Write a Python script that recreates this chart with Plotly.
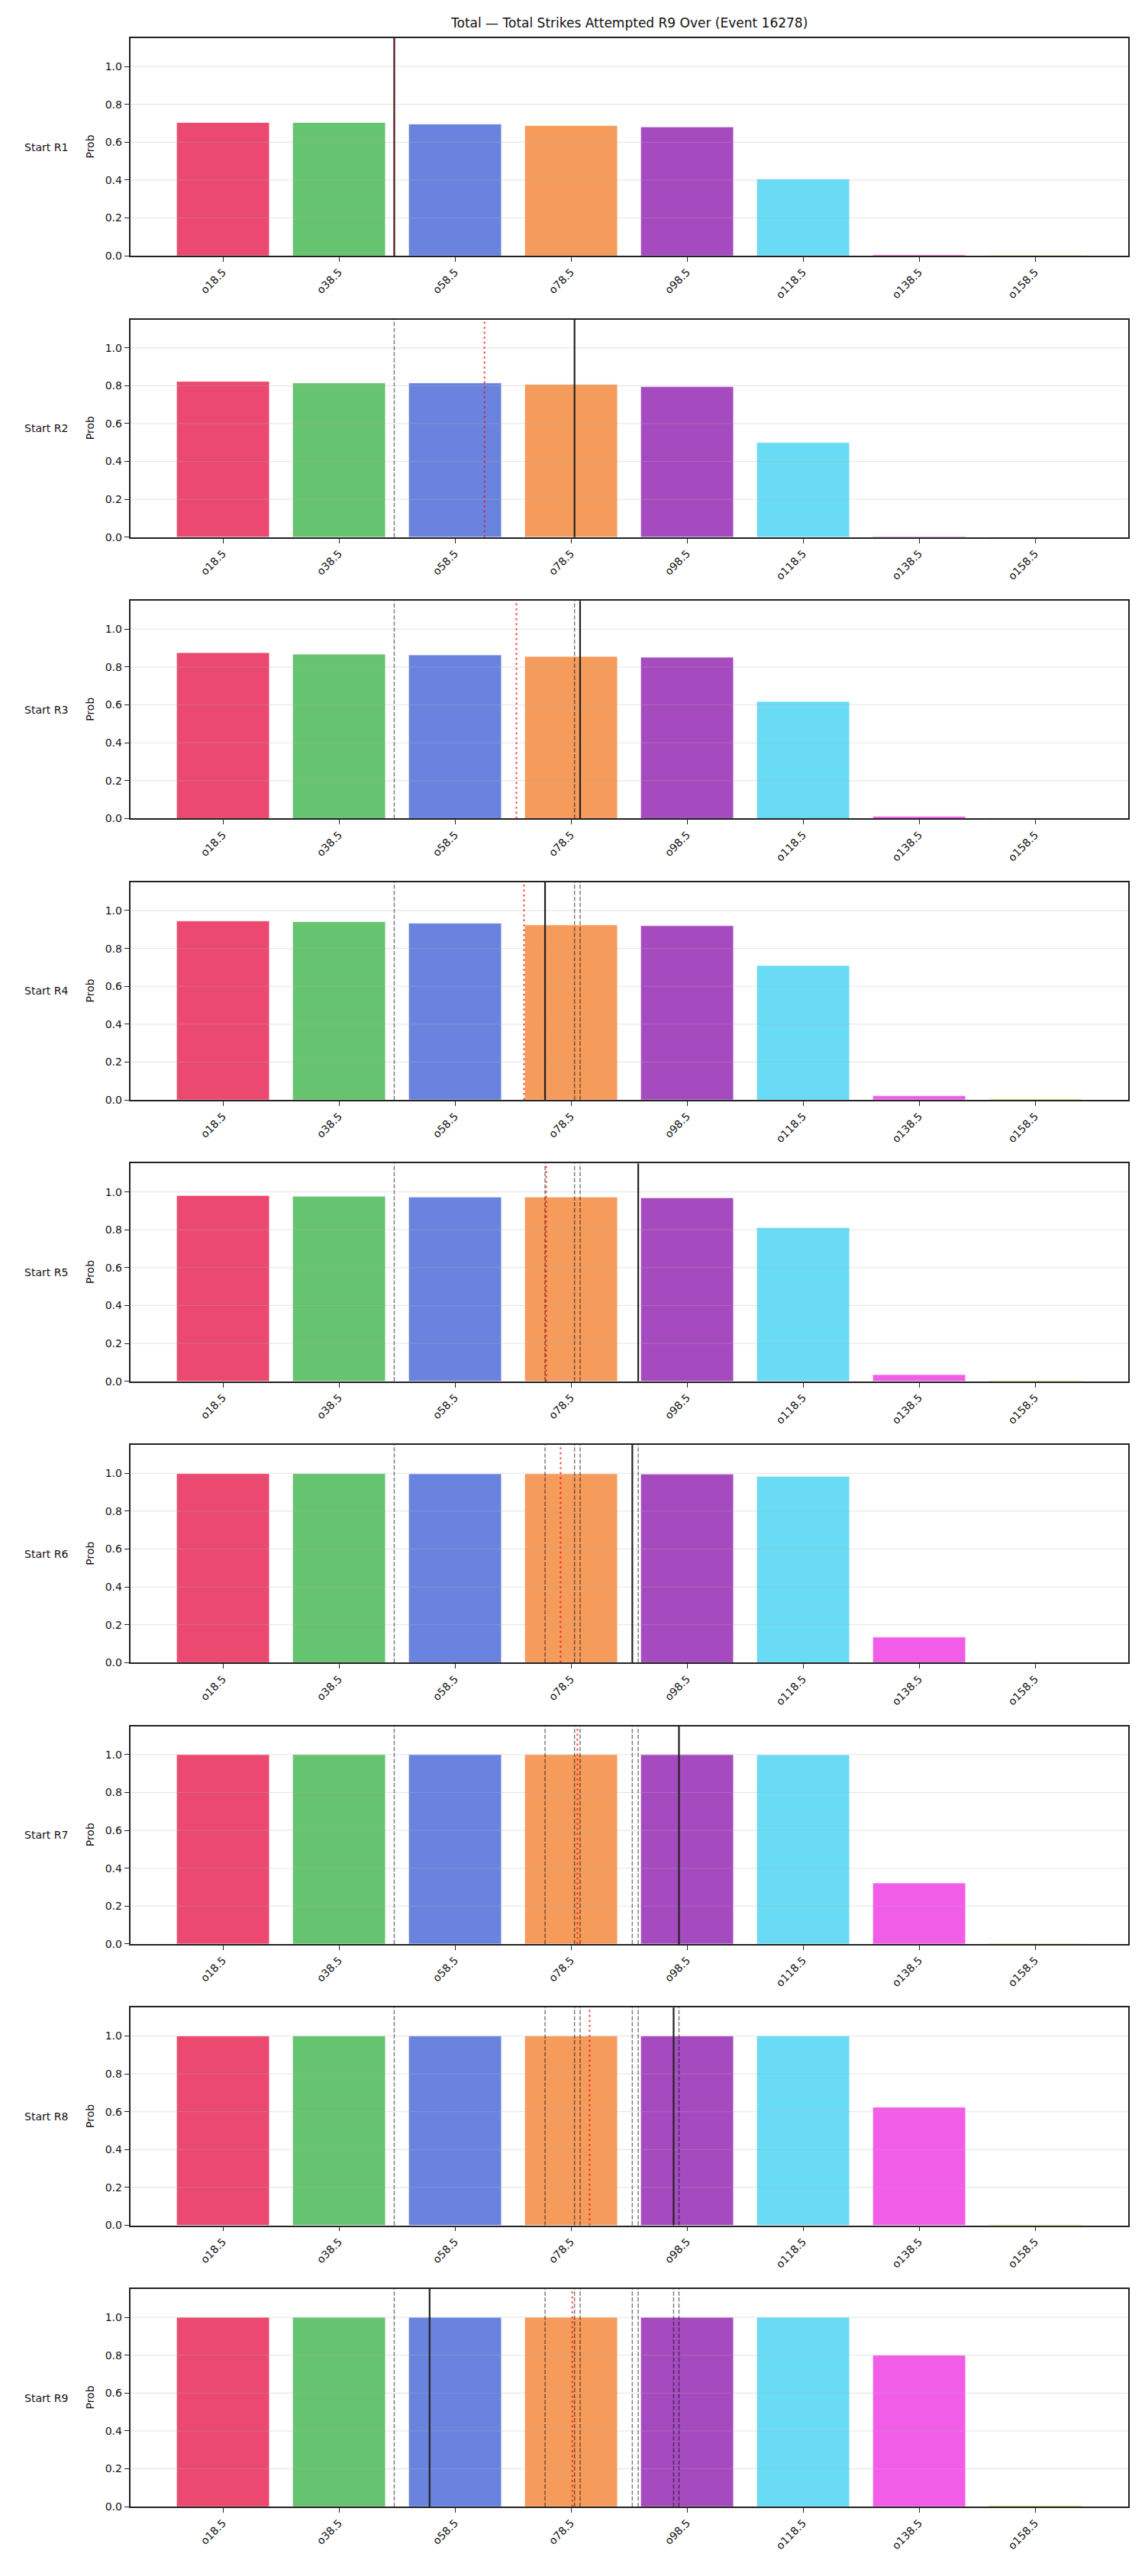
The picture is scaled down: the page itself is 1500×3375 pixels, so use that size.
import plotly.graph_objects as go

# ---------------- data ----------------
categories = ["o18.5", "o38.5", "o58.5", "o78.5", "o98.5", "o118.5", "o138.5", "o158.5"]
rounds = ["Start R1", "Start R2", "Start R3", "Start R4", "Start R5",
          "Start R6", "Start R7", "Start R8", "Start R9"]

prob_r1 = [0.704, 0.704, 0.696, 0.688, 0.681, 0.406, 0.006, 0.004]
prob_r2 = [0.823, 0.815, 0.815, 0.807, 0.795, 0.500, 0.005, 0.002]
prob_r3 = [0.876, 0.868, 0.864, 0.856, 0.852, 0.618, 0.012, 0.004]
prob_r4 = [0.945, 0.941, 0.933, 0.924, 0.920, 0.710, 0.022, 0.005]
prob_r5 = [0.981, 0.977, 0.973, 0.973, 0.969, 0.812, 0.035, 0.005]
prob_r6 = [0.998, 0.998, 0.997, 0.997, 0.996, 0.984, 0.135, 0.001]
prob_r7 = [1.000, 1.000, 1.000, 1.000, 1.000, 0.999, 0.322, 0.003]
prob_r8 = [1.000, 1.000, 1.000, 1.000, 1.000, 1.000, 0.624, 0.005]
prob_r9 = [1.000, 1.000, 1.000, 1.000, 1.000, 1.000, 0.800, 0.006]
probs = [prob_r1, prob_r2, prob_r3, prob_r4, prob_r5, prob_r6, prob_r7, prob_r8, prob_r9]

# vertical markers, in category-axis position units
current_pos = [1.476, 3.030, 3.078, 2.776, 3.579, 3.528, 3.930, 3.884, 1.781]   # black solid
projected_pos = [1.476, 2.254, 2.529, 2.595, 2.786, 2.910, 3.055, 3.160, 3.011]  # red dotted

colors = ["#EB4970", "#66C36F", "#6A83DE", "#F59B5B", "#A54BBF", "#69DBF5", "#F25DE8", "#C2E83A"]
title = "Total — Total Strikes Attempted R9 Over (Event 16278)"
y_ticks = [0.0, 0.2, 0.4, 0.6, 0.8, 1.0]

# ---------------- layout geometry ----------------
W, H = 1500, 3375
x_left, x_right = 170.5, 1477.7
panel_top0, panel_step, panel_h = 50.0, 369.5, 286.0
FONT = "DejaVu Sans"

fig = go.Figure()
shapes = []
annotations = []
layout_axes = {}
x_idx = list(range(len(categories)))

for k, vals in enumerate(probs):
    n = k + 1
    xa = "x" if n == 1 else f"x{n}"
    ya = "y" if n == 1 else f"y{n}"
    xname = "xaxis" if n == 1 else f"xaxis{n}"
    yname = "yaxis" if n == 1 else f"yaxis{n}"
    top = panel_top0 + panel_step * k
    bot = top + panel_h
    ydom = [1 - bot / H, 1 - top / H]

    fig.add_trace(go.Bar(
        x=x_idx, y=vals, width=0.8, xaxis=xa, yaxis=ya,
        marker=dict(color=colors, line=dict(color="rgba(255,255,255,0.7)", width=1)),
        showlegend=False, hoverinfo="skip",
    ))

    layout_axes[xname] = dict(
        domain=[x_left / W, x_right / W], anchor=ya, range=[-0.8, 7.8],
        tickmode="array", tickvals=x_idx, ticktext=categories, tickangle=-45,
        showgrid=False, zeroline=False, showline=True, mirror=True,
        linecolor="#222", linewidth=1.6, ticks="outside", ticklen=6,
        tickwidth=1.4, tickcolor="#222",
        tickfont=dict(family=FONT, size=14, color="#111"),
    )
    layout_axes[yname] = dict(
        domain=ydom, anchor=xa, range=[0, 1.15],
        tickmode="array", tickvals=y_ticks, ticktext=[f"{v:.1f}" for v in y_ticks],
        showgrid=False, zeroline=False, showline=True, mirror=True,
        linecolor="#222", linewidth=1.6, ticks="outside", ticklen=6,
        tickwidth=1.4, tickcolor="#222",
        tickfont=dict(family=FONT, size=14, color="#111"),
    )

    ydomref = f"{ya} domain"
    # gridlines drawn above bars (matplotlib default layering)
    for gv in y_ticks[1:]:
        shapes.append(dict(type="line", xref=f"{xa} domain", yref=ya, x0=0, x1=1,
                           y0=gv, y1=gv, layer="above",
                           line=dict(color="rgba(176,176,176,0.35)", width=1)))
    # previous rounds' markers (grey dashed)
    for j in range(k):
        shapes.append(dict(type="line", xref=xa, yref=ydomref, x0=current_pos[j], x1=current_pos[j],
                           y0=0, y1=1, layer="above",
                           line=dict(color="rgba(0,0,0,0.5)", width=1.5, dash="5.5px,2.4px")))
    # current marker (black solid)
    shapes.append(dict(type="line", xref=xa, yref=ydomref, x0=current_pos[k], x1=current_pos[k],
                       y0=0, y1=1, layer="above",
                       line=dict(color="#222", width=2.2)))
    # projection marker (red dotted)
    shapes.append(dict(type="line", xref=xa, yref=ydomref, x0=projected_pos[k], x1=projected_pos[k],
                       y0=0, y1=1, layer="above",
                       line=dict(color="rgba(255,0,0,0.75)", width=2, dash="2.5px,4px")))

    ymid = 1 - (top + panel_h / 2) / H
    annotations.append(dict(text=rounds[k], xref="paper", yref="paper", x=91 / W, y=ymid,
                            xanchor="right", yanchor="middle", showarrow=False,
                            font=dict(family=FONT, size=14, color="#111")))
    annotations.append(dict(text="Prob", xref="paper", yref="paper", x=118 / W, y=ymid,
                            xanchor="center", yanchor="middle", showarrow=False, textangle=-90,
                            font=dict(family=FONT, size=14, color="#111")))

annotations.append(dict(text=title, xref="paper", yref="paper",
                        x=(x_left + x_right) / 2 / W, y=1 - 30 / H,
                        xanchor="center", yanchor="middle", showarrow=False,
                        font=dict(family=FONT, size=17, color="#111")))

fig.update_layout(
    width=W, height=H, margin=dict(l=0, r=0, t=0, b=0),
    paper_bgcolor="white", plot_bgcolor="white",
    shapes=shapes, annotations=annotations, bargap=0.2,
    font=dict(family=FONT, size=14, color="#111"),
    **layout_axes,
)

fig.write_html("out.html")
